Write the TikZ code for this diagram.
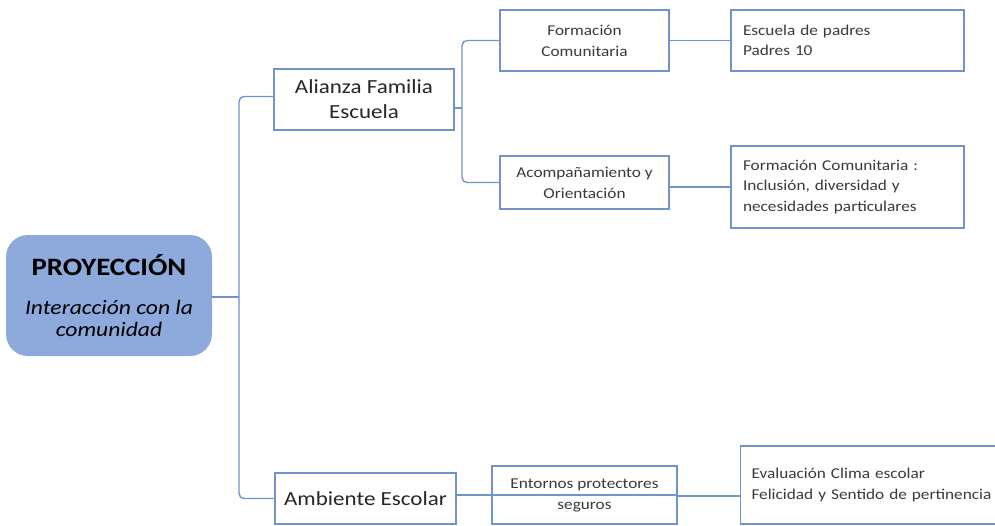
\documentclass[tikz,border=0pt]{standalone}
\usepackage{fontspec}
\setmainfont{Carlito}[FakeStretch=1.15]
\definecolor{lc}{HTML}{7293CB}
\definecolor{rootfill}{HTML}{8EA9DB}
\definecolor{txt}{HTML}{262626}
\definecolor{txtl}{HTML}{3A3A3A}
\tikzset{
  box/.style={draw=lc, line width=1.4pt, fill=white, inner sep=0pt, text=txt},
  conn/.style={draw=lc, line width=1.4pt, rounded corners=5pt},
  big/.style={font=\fontsize{20}{25}\selectfont, align=center},
  small/.style={font=\fontsize{15}{21}\selectfont, align=center, text=txtl},
  leftt/.style={font=\fontsize{15}{20.5}\selectfont, align=left, text=txtl}
}
\begin{document}
\begin{tikzpicture}[x=1pt,y=-1pt]
\useasboundingbox (0,0) rectangle (995,525);
\fill[white] (0,0) rectangle (995,525);
\begin{scope}
\clip (0,0) rectangle (995,525);
% root
\node[fill=rootfill, rounded corners=22pt, minimum width=206pt, minimum height=121pt, inner sep=0pt, align=center, text=black] (root) at (109,295.5)
  {{\bfseries\fontsize{25}{28}\selectfont PROYECCIÓN}\\[24pt]{\itshape\fontsize{20.5}{23}\selectfont Interacción con la}\\[6pt]{\itshape\fontsize{20.5}{23}\selectfont comunidad}};
% level 1
\node[box, big, minimum width=180pt, minimum height=61pt] (ali) at (364,99.5) {Alianza Familia\\Escuela};
\node[box, big, minimum width=181pt, minimum height=51pt] (amb) at (365.5,498.5) {Ambiente Escolar};
% level 2
\node[box, small, minimum width=169pt, minimum height=61pt] (fc) at (584.5,40.5) {Formación\\Comunitaria};
\node[box, small, minimum width=169pt, minimum height=53pt] (ac) at (584.5,182.5) {Acompañamiento y\\Orientación};
\node[box, small, minimum width=185pt, minimum height=58pt] (ent) at (584.5,495) {Entornos protectores\\seguros};
% level 3
\node[box, leftt, minimum width=233pt, minimum height=61pt, text width=209pt, inner xsep=12pt] (esc) at (847.5,40.5) {Escuela de padres\\Padres 10};
\node[box, leftt, minimum width=233pt, minimum height=82pt, text width=209pt, inner xsep=12pt] (fcom) at (847.5,187) {Formación Comunitaria :\\Inclusión, diversidad y\\necesidades particulares};
\node[box, leftt, minimum width=270pt, minimum height=78pt, text width=249pt, inner xsep=11pt] (fin) at (876,485) {Evaluación Clima escolar\\Felicidad y Sentido de pertinencia};
% connectors
\coordinate (t1) at (239,297);
\coordinate (t2) at (462,108);
\coordinate (y496) at (0,496);
\draw[conn] (root.east |- t1) -- (t1);
\draw[conn] ([yshift=3pt]ali.west) -| (t1) |- (amb.west);
\draw[conn] ([yshift=-8.5pt]ali.east) -- (t2);
\draw[conn] (fc.west) -| (t2) |- (ac.west);
\draw[conn] (fc.east) -- (esc.west);
\draw[conn] (ac.east |- fcom.west) -- (fcom.west);
\draw[conn] (amb.east |- ent.east) -- (ent.east);
\draw[conn] (ent.east |- y496) -- (fin.west |- y496);
\end{scope}
\end{tikzpicture}
\end{document}
